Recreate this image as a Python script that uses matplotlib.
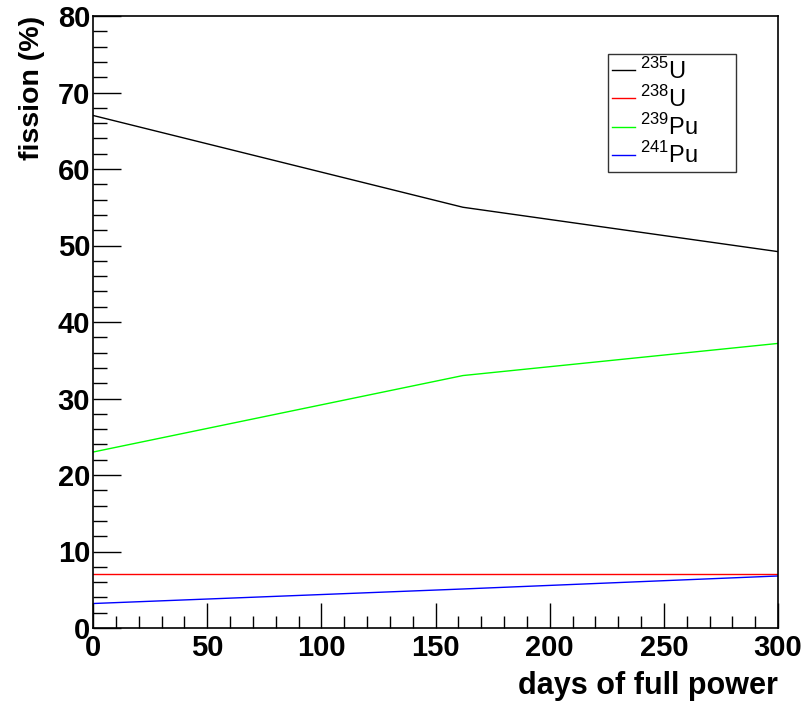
import matplotlib
matplotlib.use("Agg")
import matplotlib.pyplot as plt
from matplotlib.ticker import MultipleLocator

days = [0, 162, 300]
u235 = [67.0, 55.0, 49.2]
u238 = [7.0, 7.0, 7.0]
pu239 = [23.0, 33.0, 37.2]
pu241 = [3.2, 5.1, 6.8]
labels = [r"$^{235}$U", r"$^{238}$U", r"$^{239}$Pu", r"$^{241}$Pu"]
colors = ["black", "#ff0000", "#00ff00", "#0000ff"]

plt.rcParams['font.family'] = ['Liberation Sans', 'DejaVu Sans']
plt.rcParams['mathtext.fontset'] = 'custom'
plt.rcParams['mathtext.rm'] = 'Liberation Sans'

fig = plt.figure(figsize=(8.05, 7.01), dpi=100)
ax = fig.add_axes([93/805, 1-628/701, 685/805, 612/701])

series = [u235, u238, pu239, pu241]
for vals, lab, col in zip(series, labels, colors):
    ax.plot(days, vals, color=col, lw=1.0, label=lab)

ax.set_xlim(0, 300)
ax.set_ylim(0, 80)
ax.xaxis.set_major_locator(MultipleLocator(50))
ax.xaxis.set_minor_locator(MultipleLocator(10))
ax.yaxis.set_major_locator(MultipleLocator(10))
ax.yaxis.set_minor_locator(MultipleLocator(2))
ax.tick_params(which='major', direction='in', length=20, width=1, labelsize=21)
ax.tick_params(which='minor', direction='in', length=10, width=1)
ax.tick_params(axis='y', which='major', pad=2)
ax.tick_params(axis='x', which='major', pad=4, length=18)
ax.tick_params(axis='x', which='minor', length=9)
for t in ax.get_xticklabels() + ax.get_yticklabels():
    t.set_fontweight('bold')
for s in ax.spines.values():
    s.set_linewidth(1.2)

ax.set_xlabel("days of full power", fontsize=22, fontweight='bold', loc='right', labelpad=7)
ax.set_ylabel("fission (%)", fontsize=20.5, fontweight='bold', loc='top', labelpad=9)

x0 = (608 - 93) / 685
w = (736 - 608) / 685
y1 = (628 - 54) / 612
h = (169 - 54) / 612
leg = ax.legend(loc='upper left', bbox_to_anchor=(x0, y1 - h, w, h), mode='expand',
                frameon=True, fancybox=False, edgecolor='black', fontsize=17,
                handlelength=1.0, handletextpad=0.2, borderpad=0.15, labelspacing=0.1,
                borderaxespad=0)
leg.get_frame().set_linewidth(1.0)

fig.savefig("out.png", dpi=100, facecolor='white')
